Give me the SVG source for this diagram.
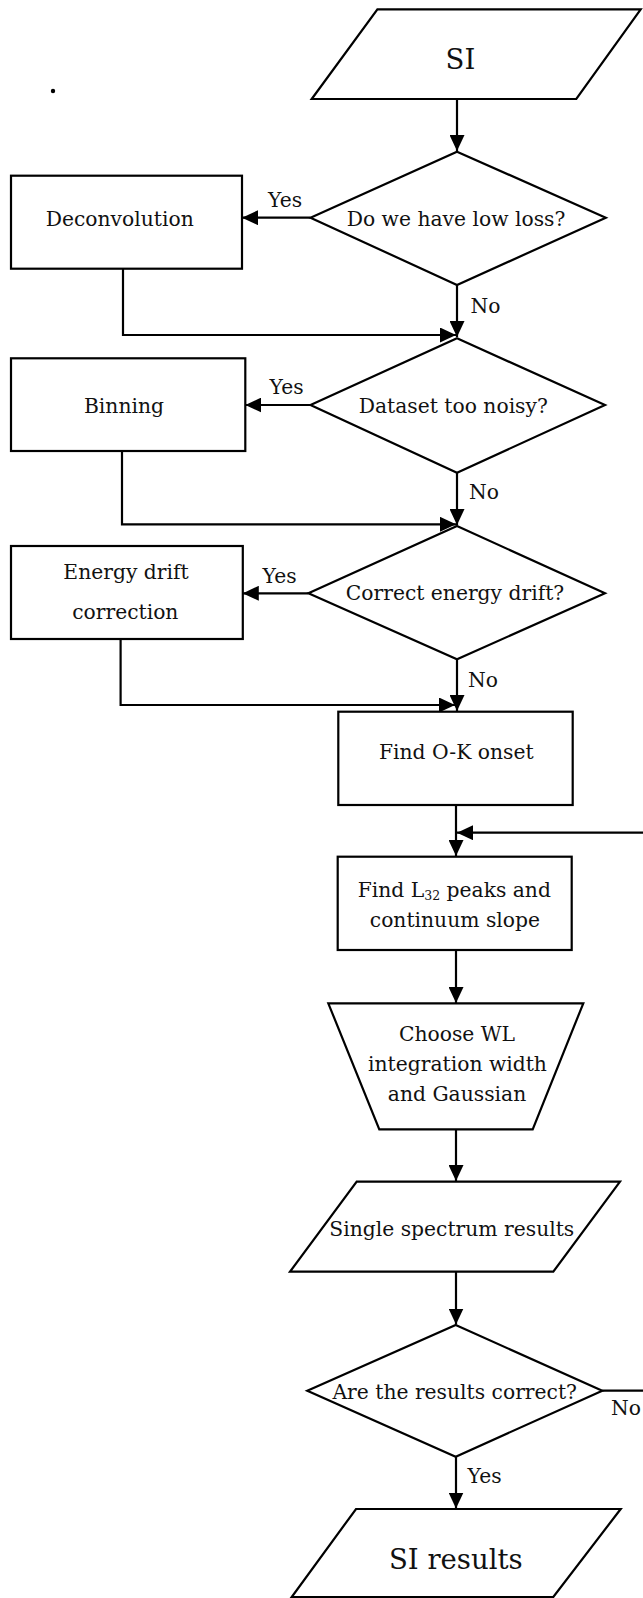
<svg xmlns="http://www.w3.org/2000/svg" width="643" height="1598" viewBox="0 0 643 1598">
<style>
.s{fill:#fff;stroke:#000;stroke-width:2.2}
.c{fill:none;stroke:#000;stroke-width:2.2}
text{font-family:"DejaVu Serif","Liberation Serif",serif;font-size:20.3px;fill:#111}
.m{text-anchor:middle}
.big{font-size:27.5px}
</style>
<defs>
<marker id="a" markerUnits="userSpaceOnUse" markerWidth="16" markerHeight="15" refX="16" refY="7.5" orient="auto">
<path d="M0,0 L16,7.5 L0,15 z" fill="#000"/>
</marker>
</defs>
<rect width="643" height="1598" fill="#fff"/>
<circle cx="53" cy="91" r="2.2" fill="#000"/>
<g id="connectors">
<path class="c" d="M457,99 V151" marker-end="url(#a)"/>
<path class="c" d="M310.5,217.7 H242" marker-end="url(#a)"/>
<path class="c" d="M457,285 V337" marker-end="url(#a)"/>
<path class="c" d="M123,268.7 V335 H456" marker-end="url(#a)"/>
<path class="c" d="M310.5,405 H245.3" marker-end="url(#a)"/>
<path class="c" d="M457,472.7 V525" marker-end="url(#a)"/>
<path class="c" d="M122,451 V524.3 H456" marker-end="url(#a)"/>
<path class="c" d="M308.4,593.3 H242.8" marker-end="url(#a)"/>
<path class="c" d="M457,659.3 V711" marker-end="url(#a)"/>
<path class="c" d="M120.6,639 V705 H455" marker-end="url(#a)"/>
<path class="c" d="M456,805 V856" marker-end="url(#a)"/>
<path class="c" d="M602.3,1390.7 H660 V832.7 H457" marker-end="url(#a)"/>
<path class="c" d="M456,950 V1003" marker-end="url(#a)"/>
<path class="c" d="M456,1129.3 V1181" marker-end="url(#a)"/>
<path class="c" d="M456,1271.7 V1324.5" marker-end="url(#a)"/>
<path class="c" d="M456,1456.7 V1508.5" marker-end="url(#a)"/>
<text x="268" y="206.7">Yes</text>
<text x="470.5" y="313.3">No</text>
<text x="269.5" y="394">Yes</text>
<text x="469" y="499.3">No</text>
<text x="262.5" y="582.7">Yes</text>
<text x="468" y="687.3">No</text>
<text x="611" y="1415">No</text>
<text x="467.5" y="1483">Yes</text>
</g>
<g id="si">
<polygon class="s" points="377.4,9.3 640.7,9.3 576.3,99 311.7,99"/>
<text class="m big" x="460.4" y="69.3">SI</text>
</g>
<g id="d1">
<polygon class="s" points="457,151.7 605.8,217.7 457,285 310.5,217.7"/>
<text class="m" x="456" y="226">Do we have low loss?</text>
</g>
<g id="deconv">
<rect class="s" x="11" y="175.7" width="231" height="93"/>
<text class="m" x="119.7" y="226">Deconvolution</text>
</g>
<g id="d2">
<polygon class="s" points="457,338.3 605,405 457,472.7 310.5,405"/>
<text class="m" x="453.3" y="413.3">Dataset too noisy?</text>
</g>
<g id="binning">
<rect class="s" x="11" y="358.3" width="234.3" height="92.7"/>
<text class="m" x="124" y="413">Binning</text>
</g>
<g id="d3">
<polygon class="s" points="457,526 605,593.3 457,659.3 308.4,593.3"/>
<text class="m" x="455" y="600">Correct energy drift?</text>
</g>
<g id="energy">
<rect class="s" x="11" y="546" width="231.8" height="93"/>
<text class="m" x="126" y="579.3">Energy drift</text>
<text class="m" x="125.3" y="619.3">correction</text>
</g>
<g id="ok">
<rect class="s" x="338.3" y="711.7" width="234.4" height="93.3"/>
<text class="m" x="456.3" y="759.3">Find O-K onset</text>
</g>
<g id="l32">
<rect class="s" x="337.7" y="856.7" width="234" height="93.3"/>
<text class="m" x="454.3" y="896.7">Find L<tspan font-size="12.5" dy="3">32</tspan><tspan dy="-3"> peaks and</tspan></text>
<text class="m" x="454.9" y="926.7">continuum slope</text>
</g>
<g id="wl">
<polygon class="s" points="328.3,1003.3 583.3,1003.3 532.7,1129.3 379.3,1129.3"/>
<text class="m" x="457" y="1040.7">Choose WL</text>
<text class="m" x="457.5" y="1070.5">integration width</text>
<text class="m" x="457" y="1101">and Gaussian</text>
</g>
<g id="single">
<polygon class="s" points="356.7,1181.7 620,1181.7 553.3,1271.7 290,1271.7"/>
<text class="m" x="451.8" y="1236">Single spectrum results</text>
</g>
<g id="d4">
<polygon class="s" points="455.7,1325 602.3,1390.7 455.7,1456.7 307.3,1390.7"/>
<text class="m" x="454.7" y="1399">Are the results correct?</text>
</g>
<g id="siresults">
<polygon class="s" points="356,1509 620.7,1509 553.3,1597 291.7,1597"/>
<text class="m big" x="455.8" y="1569">SI results</text>
</g>
</svg>
